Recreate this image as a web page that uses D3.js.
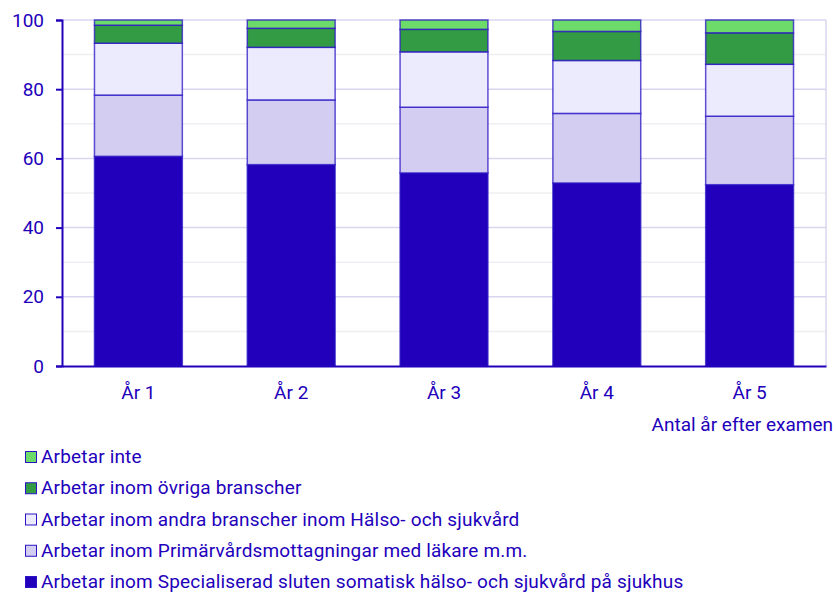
<!DOCTYPE html>
<html>
<head>
<meta charset="utf-8">
<script src="https://cdn.jsdelivr.net/npm/d3@7"></script>
<style>
body { margin: 0; background: #fff; }
svg text { font-family: Roboto, "Noto Sans", sans-serif; fill: #2200bb; }
</style>
</head>
<body>
<div id="chart"></div>
<script>
const years = ['År 1', 'År 2', 'År 3', 'År 4', 'År 5'];
const seriesNames = [
    'Arbetar inom Specialiserad sluten somatisk hälso- och sjukvård på sjukhus',
    'Arbetar inom Primärvårdsmottagningar med läkare m.m.',
    'Arbetar inom andra branscher inom Hälso- och sjukvård',
    'Arbetar inom övriga branscher',
    'Arbetar inte'
];
const specialiserad = [60.6, 58.2, 55.8, 52.9, 52.4];
const primarvard = [17.7, 18.7, 19.0, 20.1, 19.8];
const andra = [15.0, 15.2, 16.0, 15.3, 15.0];
const ovriga = [5.2, 5.5, 6.5, 8.4, 9.1];
const inte = [1.5, 2.4, 2.7, 3.3, 3.7];
const colors = ['#2200bb', '#d2cdf1', '#ecebfd', '#339b44', '#6ddb6a'];
const yTicks = [0, 20, 40, 60, 80, 100];

const seriesValues = [specialiserad, primarvard, andra, ovriga, inte];
const table = years.map((y, i) => {
    const row = { year: y };
    seriesNames.forEach((s, j) => row[s] = seriesValues[j][i]);
    return row;
});

const W = 836, H = 595;
const margin = { top: 20, right: 10, bottom: 229, left: 62 };
const width = W - margin.left - margin.right;
const height = H - margin.top - margin.bottom;

const svg = d3.select('#chart')
    .append('svg')
    .attr('width', W)
    .attr('height', H);

const g = svg.append('g')
    .attr('transform', `translate(${margin.left},${margin.top})`);

const x = d3.scaleBand()
    .domain(years)
    .range([0, width])
    .paddingInner(0.425)
    .paddingOuter(0.2125);

const y = d3.scaleLinear()
    .domain([0, 100])
    .range([height, 0]);

// minor grid
g.append('g')
    .selectAll('line')
    .data([10, 30, 50, 70, 90])
    .join('line')
    .attr('x1', 0).attr('x2', width)
    .attr('y1', d => y(d)).attr('y2', d => y(d))
    .attr('stroke', '#efeff3')
    .attr('stroke-width', 1.5);

// major grid
g.append('g')
    .selectAll('line')
    .data([20, 40, 60, 80, 100])
    .join('line')
    .attr('x1', 0).attr('x2', width)
    .attr('y1', d => y(d)).attr('y2', d => y(d))
    .attr('stroke', '#d8d6ee')
    .attr('stroke-width', 1.5);

g.append('line')
    .attr('x1', width).attr('x2', width)
    .attr('y1', 0).attr('y2', height)
    .attr('stroke', '#d8d6ee')
    .attr('stroke-width', 1.5);

const stacked = d3.stack().keys(seriesNames)(table);

g.append('g')
    .selectAll('g')
    .data(stacked)
    .join('g')
    .attr('fill', (d, i) => colors[i])
    .selectAll('rect')
    .data(d => d)
    .join('rect')
    .attr('x', d => x(d.data.year))
    .attr('width', x.bandwidth())
    .attr('y', d => y(d[1]))
    .attr('height', d => y(d[0]) - y(d[1]))
    .attr('stroke', '#2a14c4')
    .attr('stroke-opacity', 0.75)
    .attr('stroke-width', 1.5);

// y axis
const yAxis = g.append('g')
    .call(d3.axisLeft(y).tickValues(yTicks).tickSize(6).tickPadding(12));
yAxis.select('.domain').attr('stroke', '#2200bb').attr('stroke-width', 2);
yAxis.selectAll('.tick line').attr('stroke', '#2200bb').attr('stroke-width', 2);
yAxis.selectAll('text')
    .style('font-size', '19px')
    .attr('fill', '#2200bb');

// x axis
const xAxis = g.append('g')
    .attr('transform', `translate(0,${height})`)
    .call(d3.axisBottom(x).tickSize(0).tickPadding(20));
xAxis.select('.domain').attr('stroke', '#2200bb').attr('stroke-width', 2);
xAxis.selectAll('text')
    .style('font-size', '19px')
    .attr('fill', '#2200bb');

svg.append('text')
    .attr('x', 833)
    .attr('y', 431)
    .attr('text-anchor', 'end')
    .style('font-size', '19px')
    .text('Antal år efter examen');

// legend, top entry is last series
const legendOrder = seriesNames.map((s, i) => ({ name: s, color: colors[i] })).reverse();
const legend = svg.append('g')
    .selectAll('g')
    .data(legendOrder)
    .join('g')
    .attr('transform', (d, i) => `translate(25,${463 + i * 31.25})`);

legend.append('rect')
    .attr('x', 0.5)
    .attr('y', -11.5)
    .attr('width', 11)
    .attr('height', 11)
    .attr('fill', d => d.color)
    .attr('stroke', '#2a14c4')
    .attr('stroke-width', 1);

legend.append('text')
    .attr('x', 16)
    .attr('y', 0)
    .style('font-size', '19px')
    .style('letter-spacing', '0.17px')
    .text(d => d.name);
</script>
</body>
</html>
